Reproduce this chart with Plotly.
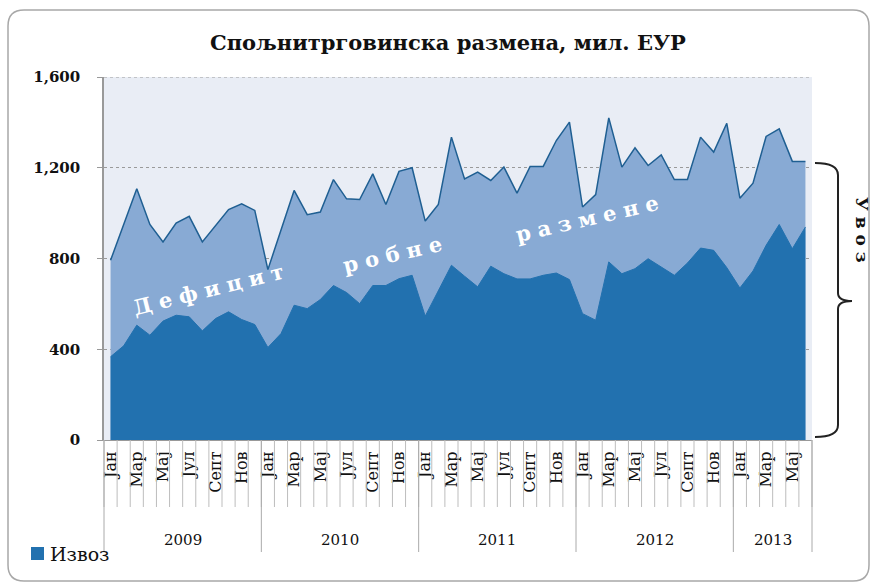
import plotly.graph_objects as go

# ---------------- data ----------------
years = ["2009", "2010", "2011", "2012", "2013"]
months_per_year = [12, 12, 12, 12, 6]
month_names = ["Јан", "Феб", "Мар", "Апр", "Мај", "Јун", "Јул", "Авг", "Септ", "Окт", "Нов", "Дец"]

izvoz = [367, 415, 506, 462, 524, 550, 543, 481, 535, 565, 531, 509,
         408, 469, 594, 579, 619, 681, 650, 601, 681, 681, 711, 726,
         546, 660, 770, 722, 675, 766, 733, 710, 710, 726, 736, 707,
         557, 528, 785, 733, 755, 799, 763, 726, 780, 846, 836, 760,
         670, 745, 858, 950, 843, 939]
uvoz = [792, 953, 1107, 950, 873, 956, 986, 873, 946, 1016, 1041, 1012,
        751, 924, 1100, 993, 1005, 1148, 1063, 1060, 1173, 1038, 1184, 1200,
        965, 1038, 1335, 1151, 1181, 1144, 1203, 1088, 1206, 1206, 1320, 1401,
        1027, 1082, 1420, 1203, 1288, 1210, 1257, 1148, 1148, 1335, 1269, 1396,
        1066, 1132, 1338, 1371, 1228, 1228]
y_ticks = [0, 400, 800, 1200, 1600]

title_text = "Спољнитрговинска размена, мил. ЕУР"
deficit_words = ["Дефицит", "робне", "размене"]
import_label = "Увоз"
export_label = "Извоз"

# ---------------- layout geometry ----------------
W, H = 880, 587
L, R, T, B = 104, 812, 77, 440
n = len(izvoz)
idx = list(range(n))
labels = []
for yi, cnt in enumerate(months_per_year):
    for m in range(cnt):
        labels.append(month_names[m])
tickvals = [i for i in idx if i % 2 == 0]
ticktext = [labels[i] for i in tickvals]


def px(x):
    return (x - L) / (R - L)


def py(y):
    return (B - y) / (B - T)


SERIF = "DejaVu Serif"
C_EXP = "#2271AF"
C_IMP = "#88AAD4"
C_LINE = "#1F5F92"

fig = go.Figure()
fig.add_trace(go.Scatter(x=idx, y=uvoz, name=import_label, mode="lines",
                         line=dict(color=C_LINE, width=1.5), fill="tozeroy",
                         fillcolor=C_IMP, showlegend=False, hoverinfo="x+y"))
fig.add_trace(go.Scatter(x=idx, y=izvoz, name=export_label, mode="lines",
                         line=dict(color=C_EXP, width=1), fill="tozeroy",
                         fillcolor=C_EXP, showlegend=False, hoverinfo="x+y"))

shapes = []
annotations = []

# rounded outer frame
x0, x1, y0, y1, r = px(8), px(869), py(10), py(581), 16
rx = r / (R - L)
ry = r / (B - T)
path = (f"M {x0+rx},{y0} L {x1-rx},{y0} Q {x1},{y0} {x1},{y0-ry} "
        f"L {x1},{y1+ry} Q {x1},{y1} {x1-rx},{y1} L {x0+rx},{y1} "
        f"Q {x0},{y1} {x0},{y1+ry} L {x0},{y0-ry} Q {x0},{y0} {x0+rx},{y0} Z")
shapes.append(dict(type="path", xref="paper", yref="paper", path=path,
                   line=dict(color="#A8A8A8", width=1.5), layer="below"))

# top dotted gridline at 1600
shapes.append(dict(type="line", xref="paper", yref="y", x0=0, x1=1, y0=y_ticks[-1], y1=y_ticks[-1],
                   line=dict(color="#9A9A9A", width=1, dash="dot")))

# month separators and year separators
for i in range(n + 1):
    xp = i / n
    shapes.append(dict(type="line", xref="paper", yref="paper", x0=xp, x1=xp,
                       y0=0, y1=py(507), line=dict(color="#BDBDBD", width=1)))
bounds = [0]
for cnt in months_per_year:
    bounds.append(bounds[-1] + cnt)
for b in bounds:
    xp = b / n
    shapes.append(dict(type="line", xref="paper", yref="paper", x0=xp, x1=xp,
                       y0=0, y1=py(552), line=dict(color="#AAAAAA", width=1)))
for k, yr in enumerate(years):
    annotations.append(dict(text=yr, xref="paper", yref="paper",
                            x=(bounds[k] + bounds[k + 1]) / 2 / n, y=py(540),
                            showarrow=False, xanchor="center", yanchor="middle",
                            font=dict(family=SERIF, size=15, color="#111")))

# title
annotations.append(dict(text=f"<b>{title_text}</b>", xref="paper", yref="paper",
                        x=px(448), y=py(42), showarrow=False, xanchor="center",
                        yanchor="middle", font=dict(family=SERIF, size=21, color="#111")))

# deficit text
nb = "\u00a0"
word_pos = [(208, 289, -14), (392, 254, -13), (587, 218, -13)]
for w, (cx, cy, ang) in zip(deficit_words, word_pos):
    annotations.append(dict(text="<b>" + nb.join(list(w)) + "</b>", xref="paper", yref="paper",
                            x=px(cx), y=py(cy), showarrow=False, textangle=ang,
                            xanchor="center", yanchor="middle",
                            font=dict(family=SERIF, size=21, color="white")))

# import brace
bx, tipx = 838, 852
ytop, ybot, ymid = 163, 437, 301
path_b = (f"M {px(815)},{py(ytop)} Q {px(bx)},{py(ytop)} {px(bx)},{py(ytop+12)} "
          f"L {px(bx)},{py(ymid-8)} Q {px(bx)},{py(ymid)} {px(tipx)},{py(ymid)} "
          f"Q {px(bx)},{py(ymid)} {px(bx)},{py(ymid+8)} "
          f"L {px(bx)},{py(ybot-12)} Q {px(bx)},{py(ybot)} {px(815)},{py(ybot)}")
shapes.append(dict(type="path", xref="paper", yref="paper", path=path_b,
                   line=dict(color="#222", width=2)))
annotations.append(dict(text="<b>" + nb.join(list(import_label)) + "</b>",
                        xref="paper", yref="paper", x=px(862), y=py(230),
                        showarrow=False, textangle=90, xanchor="center", yanchor="middle",
                        font=dict(family=SERIF, size=17, color="#111")))

# legend (export)
shapes.append(dict(type="rect", xref="paper", yref="paper", x0=px(31), x1=px(44),
                   y0=py(560), y1=py(547), fillcolor=C_EXP, line=dict(width=0)))
annotations.append(dict(text=export_label, xref="paper", yref="paper", x=px(48), y=py(554),
                        showarrow=False, xanchor="left", yanchor="middle",
                        font=dict(family=SERIF, size=19, color="#111")))

fig.update_layout(
    width=W, height=H, autosize=False,
    margin=dict(l=L, r=W - R, t=T, b=H - B, pad=0),
    paper_bgcolor="white", plot_bgcolor="#E9EDF5",
    shapes=shapes, annotations=annotations, showlegend=False,
    xaxis=dict(range=[-0.5, n - 0.5], tickmode="array", tickvals=tickvals, ticktext=ticktext,
               tickangle=-90, showgrid=False, zeroline=False, showline=True,
               linecolor="#999", linewidth=1, ticks="", ticklabelstandoff=4,
               tickfont=dict(family=SERIF, size=16, color="#111")),
    yaxis=dict(range=[0, 1600], tickmode="array", tickvals=y_ticks, tickformat=",",
               showgrid=True, gridcolor="#9A9A9A", griddash="dot", gridwidth=1,
               zeroline=False, showline=True, linecolor="#999", linewidth=1.5,
               ticks="outside", ticklen=5, tickcolor="#999", ticklabelstandoff=14,
               tickfont=dict(family=SERIF, size=15, color="#111", weight="bold")),
)

fig.write_html("out.html", config={"displayModeBar": False},
               post_script="document.body.style.margin='0';document.body.style.padding='0';")
